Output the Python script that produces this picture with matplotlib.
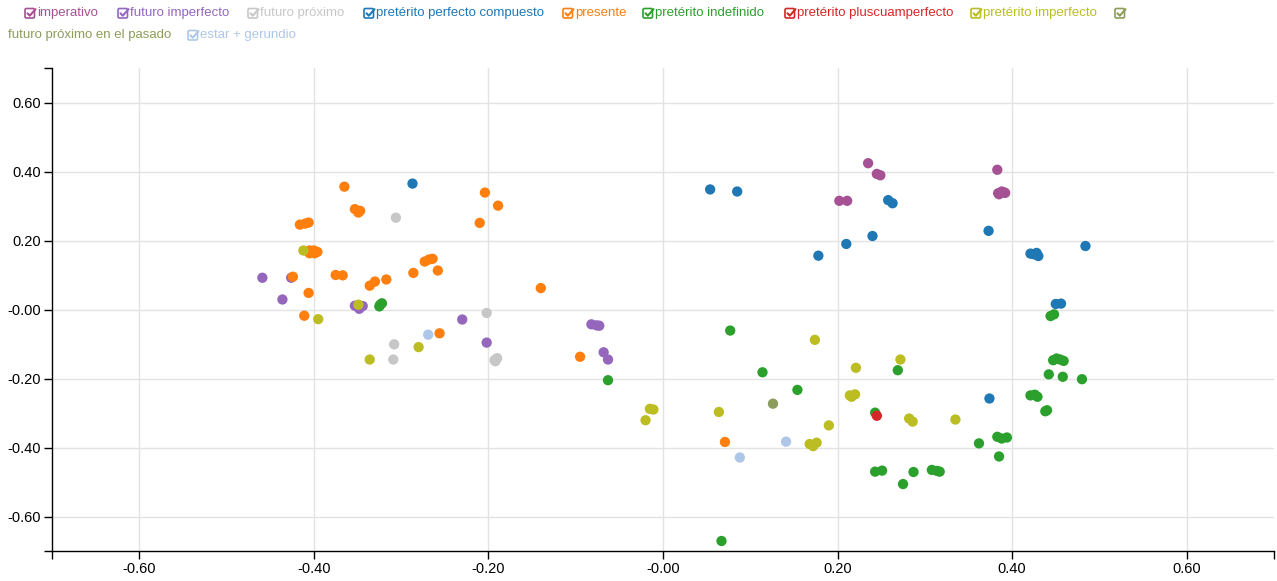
import matplotlib
matplotlib.use("Agg")
import matplotlib.pyplot as plt
from matplotlib.ticker import FixedLocator
from matplotlib.patches import FancyBboxPatch

plt.rcParams['font.family'] = ['Liberation Sans', 'DejaVu Sans']

W, H = 1277, 581

# series: name, color, x values, y values
names = ["imperativo", "futuro imperfecto", "futuro próximo",
         "pretérito perfecto compuesto", "presente", "pretérito indefinido",
         "pretérito pluscuamperfecto", "pretérito imperfecto",
         "futuro próximo en el pasado", "estar + gerundio"]
colors = ["#a55194", "#9467bd", "#c7c7c7", "#1f77b4", "#ff7f0e", "#2ca02c",
          "#d62728", "#bcbd22", "#8c9c5a", "#aec7e8"]

imp_x = [0.235, 0.245, 0.249, 0.202, 0.211, 0.383, 0.384, 0.388, 0.392, 0.385, 0.390]
imp_y = [0.424, 0.393, 0.389, 0.315, 0.315, 0.405, 0.337, 0.342, 0.338, 0.334, 0.340]

fimp_x = [-0.459, -0.426, -0.436, -0.353, -0.348, -0.344, -0.230, -0.202, -0.082, -0.076, -0.073, -0.068, -0.063]
fimp_y = [0.092, 0.092, 0.029, 0.011, 0.002, 0.010, -0.029, -0.096, -0.043, -0.046, -0.047, -0.124, -0.145]

fprox_x = [-0.306, -0.202, -0.308, -0.309, -0.193, -0.190, -0.192]
fprox_y = [0.266, -0.010, -0.101, -0.145, -0.147, -0.141, -0.150]

ppc_x = [-0.287, 0.054, 0.085, 0.258, 0.263, 0.178, 0.210, 0.240, 0.373, 0.421, 0.428, 0.430, 0.425, 0.484, 0.450, 0.456, 0.374]
ppc_y = [0.365, 0.348, 0.342, 0.317, 0.308, 0.156, 0.190, 0.213, 0.228, 0.162, 0.164, 0.155, 0.160, 0.184, 0.016, 0.017, -0.258]

pres_x = [-0.365, -0.204, -0.189, -0.353, -0.347, -0.349, -0.210, -0.416, -0.410, -0.406,
          -0.405, -0.400, -0.396, -0.405, -0.399, -0.402, -0.424, -0.375, -0.367, -0.336,
          -0.330, -0.317, -0.286, -0.273, -0.268, -0.264, -0.258, -0.140, -0.406, -0.411,
          -0.256, -0.095, 0.071]
pres_y = [0.356, 0.339, 0.301, 0.291, 0.286, 0.281, 0.251, 0.246, 0.249, 0.252,
          0.171, 0.171, 0.167, 0.163, 0.163, 0.167, 0.095, 0.100, 0.099, 0.069,
          0.081, 0.087, 0.106, 0.139, 0.145, 0.147, 0.113, 0.062, 0.048, -0.018,
          -0.069, -0.137, -0.384]

pind_x = [-0.324, -0.325, -0.322, -0.063, 0.077, 0.114, 0.154, 0.067, 0.444, 0.448,
          0.269, 0.243, 0.243, 0.251, 0.275, 0.287, 0.308, 0.314, 0.317, 0.362,
          0.385, 0.388, 0.394, 0.383, 0.421, 0.426, 0.429, 0.438, 0.440, 0.442,
          0.458, 0.480, 0.447, 0.455, 0.459, 0.451]
pind_y = [0.014, 0.009, 0.018, -0.205, -0.061, -0.182, -0.233, -0.671, -0.019, -0.014,
          -0.176, -0.299, -0.470, -0.467, -0.506, -0.471, -0.465, -0.468, -0.470, -0.388,
          -0.426, -0.374, -0.371, -0.369, -0.249, -0.247, -0.253, -0.295, -0.292, -0.188,
          -0.195, -0.202, -0.147, -0.145, -0.149, -0.142]

pplus_x = [0.245]
pplus_y = [-0.308]

pimp_x = [-0.412, -0.349, -0.395, -0.280, -0.336, -0.015, -0.011, -0.020, 0.064, 0.174,
          0.221, 0.272, 0.214, 0.220, 0.216, 0.190, 0.168, 0.176, 0.172, 0.282, 0.286, 0.335]
pimp_y = [0.171, 0.014, -0.028, -0.109, -0.145, -0.288, -0.290, -0.321, -0.297, -0.088,
          -0.169, -0.145, -0.249, -0.246, -0.253, -0.336, -0.390, -0.386, -0.396, -0.316, -0.325, -0.319]

fpp_x = [0.126]
fpp_y = [-0.273]

eg_x = [-0.269, 0.141, 0.088]
eg_y = [-0.073, -0.383, -0.429]

xs = [imp_x, fimp_x, fprox_x, ppc_x, pres_x, pind_x, pplus_x, pimp_x, fpp_x, eg_x]
ys = [imp_y, fimp_y, fprox_y, ppc_y, pres_y, pind_y, pplus_y, pimp_y, fpp_y, eg_y]

ticks = [-0.6, -0.4, -0.2, 0.0, 0.2, 0.4, 0.6]
tick_labels = ["-0.60", "-0.40", "-0.20", "-0.00", "0.20", "0.40", "0.60"]

fig = plt.figure(figsize=(W / 100, H / 100), dpi=100)
ax = fig.add_axes([52 / W, 30 / H, (1274 - 52) / W, (551 - 68) / H])

for x, y, c in zip(xs, ys, colors):
    ax.scatter(x, y, s=55, color=c, edgecolors='none', zorder=3)

ax.set_xlim(-0.7, 0.7)
ax.set_ylim(-0.7, 0.7)
ax.set_xticks(ticks)
ax.set_xticklabels(tick_labels)
ax.set_yticks(ticks)
ax.set_yticklabels(tick_labels)
ax.xaxis.set_minor_locator(FixedLocator([-0.7, 0.7]))
ax.yaxis.set_minor_locator(FixedLocator([-0.7, 0.7]))
ax.tick_params(which='both', length=6, width=1, color='#000000', labelsize=10.5,
               labelcolor='#000000', pad=2)
ax.grid(True, which='major', color='#e3e3e3', linewidth=1, zorder=0)
ax.set_axisbelow(True)
for s in ['top', 'right']:
    ax.spines[s].set_visible(False)
for s in ['left', 'bottom']:
    ax.spines[s].set_color('#000000')
    ax.spines[s].set_linewidth(1)

# legend: overlay in pixel coordinates, check-box icon + coloured text
lg = fig.add_axes([0, 0, 1, 1], zorder=5)
lg.set_xlim(0, W)
lg.set_ylim(H, 0)
lg.axis('off')

icon_pos = [(25, 13), (118, 13), (248, 13), (364, 13), (563, 13), (643, 13),
            (785, 13), (971, 13), (1115, 13), (188, 35)]
text_pos = [(37, 13), (130, 13), (260, 13), (376, 13), (575, 13), (655, 13),
            (797, 13), (983, 13), (8, 35), (200, 35)]
for name, c, (ix, iy), (tx, ty) in zip(names, colors, icon_pos, text_pos):
    box = FancyBboxPatch((ix, iy - 4.5), 9.5, 9.5, boxstyle="round,pad=0,rounding_size=1.5",
                         fill=False, edgecolor=c, linewidth=1.2)
    lg.add_patch(box)
    lg.plot([ix + 2.5, ix + 4.8, ix + 10.5], [iy + 0.3, iy + 2.7, iy - 3.8],
            color=c, linewidth=1.5, solid_capstyle='round', solid_joinstyle='round')
    lg.text(tx, ty, name, color=c, fontsize=9.5, ha='left', va='center')

fig.savefig("out.png", dpi=100)
